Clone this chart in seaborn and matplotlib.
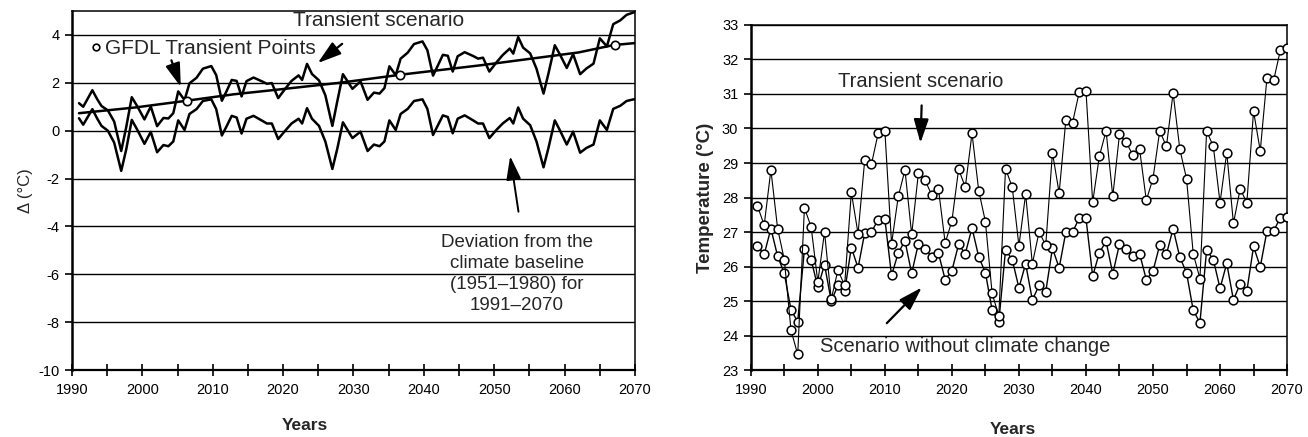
import matplotlib
matplotlib.use("Agg")
import matplotlib.pyplot as plt
import pandas as pd
import seaborn as sns

# ---------------- Left panel data (Delta, deg C) ----------------
left_years = [1991.0, 1991.6, 1992.3, 1992.9, 1993.6, 1994.2, 1995.1, 1996.0, 1997.0, 1997.7,
              1998.5, 1999.3, 2000.3, 2001.2, 2002.1, 2003.0, 2003.7, 2004.4, 2005.1, 2006.0,
              2006.7, 2007.7, 2008.6, 2009.8, 2010.5, 2011.3, 2012.0, 2012.7, 2013.4, 2014.1,
              2014.8, 2015.8, 2017.0, 2017.7, 2018.4, 2019.3, 2020.3, 2021.2, 2022.2, 2022.7,
              2023.4, 2024.1, 2025.1, 2026.0, 2027.0, 2027.7, 2028.5, 2029.85, 2031.0, 2032.0,
              2032.9, 2033.7, 2034.4, 2035.1, 2036.0, 2036.7, 2037.7, 2038.6, 2039.8, 2040.5,
              2041.3, 2042.0, 2042.7, 2043.4, 2044.1, 2044.8, 2045.8, 2047.0, 2047.7, 2048.4,
              2049.3, 2050.3, 2051.2, 2052.2, 2052.7, 2053.4, 2054.1, 2055.1, 2056.0, 2057.0,
              2057.7, 2058.6, 2059.3, 2060.3, 2061.2, 2062.2, 2063.1, 2064.1, 2065.0, 2066.0,
              2066.9, 2067.9, 2068.8, 2069.8, 2070.0]

deviation_vals = [0.52, 0.25, 0.60, 0.90, 0.50, 0.20, 0.00, -0.50, -1.68, -0.80,
                  0.45, 0.03, -0.55, -0.05, -0.90, -0.60, -0.65, -0.45, 0.43, 0.03,
                  0.70, 0.90, 1.24, 1.31, 0.90, -0.20, 0.20, 0.62, 0.55, -0.12,
                  0.50, 0.62, 0.42, 0.30, 0.30, -0.35, 0.00, 0.30, 0.50, 0.30,
                  0.94, 0.50, 0.20, -0.45, -1.60, -0.75, 0.35, -0.31, -0.04, -0.85,
                  -0.58, -0.65, -0.45, 0.43, 0.03, 0.70, 0.91, 1.24, 1.31, 0.91,
                  -0.18, 0.23, 0.64, 0.57, -0.11, 0.50, 0.64, 0.43, 0.30, 0.30,
                  -0.31, 0.03, 0.30, 0.53, 0.30, 0.97, 0.50, 0.23, -0.45, -1.53,
                  -0.72, 0.43, 0.03, -0.58, -0.04, -0.92, -0.72, -0.58, 0.43, 0.03,
                  0.91, 1.04, 1.24, 1.31, 1.30]

transient_delta_vals = [1.15, 1.00, 1.37, 1.69, 1.31, 1.03, 0.85, 0.38, -0.85, 0.13,
                        1.40, 1.01, 0.47, 1.01, 0.19, 0.53, 0.51, 0.73, 1.64, 1.28,
                        1.98, 2.21, 2.59, 2.70, 2.32, 1.25, 1.67, 2.12, 2.08, 1.43,
                        2.07, 2.22, 2.06, 1.96, 1.99, 1.36, 1.75, 2.08, 2.31, 2.12,
                        2.79, 2.37, 2.10, 1.48, 0.20, 1.23, 2.36, 1.75, 2.06, 1.29,
                        1.59, 1.55, 1.78, 2.69, 2.32, 3.01, 3.26, 3.62, 3.73, 3.36,
                        2.30, 2.73, 3.17, 3.13, 2.47, 3.11, 3.28, 3.12, 3.01, 3.05,
                        2.47, 2.85, 3.16, 3.43, 3.22, 3.91, 3.47, 3.23, 2.59, 1.55,
                        2.39, 3.57, 3.20, 2.62, 3.20, 2.36, 2.60, 2.80, 3.86, 3.52,
                        4.45, 4.61, 4.84, 4.94, 4.95]

trend_years = [1991, 1999, 2006, 2013, 2020, 2028, 2037, 2048, 2055, 2062, 2067, 2070]
trend_vals = [0.73, 0.97, 1.24, 1.52, 1.74, 2.00, 2.35, 2.73, 3.00, 3.27, 3.58, 3.66]

gfdl_years = [2006.3, 2036.6, 2067.1]
gfdl_vals = [1.23, 2.34, 3.60]

# ---------------- Right panel data (Temperature, deg C) ----------------
years = list(range(1991, 2071))
transient_temp = [27.75, 27.20, 28.80, 27.10, 26.20, 24.15, 23.45, 27.70, 27.15, 25.55,
                  27.00, 25.05, 25.90, 25.45, 28.15, 26.95, 29.10, 28.97, 29.86, 29.94,
                  26.66, 28.03, 28.80, 26.93, 28.70, 28.50, 28.07, 28.24, 26.68, 27.32,
                  28.82, 28.30, 29.86, 28.20, 27.30, 25.22, 24.57, 28.84, 28.30, 26.60,
                  28.10, 26.08, 27.00, 26.62, 29.30, 28.13, 30.25, 30.17, 31.06, 31.10,
                  27.86, 29.20, 29.93, 28.03, 29.83, 29.60, 29.23, 29.40, 27.92, 28.55,
                  29.93, 29.48, 31.03, 29.40, 28.55, 26.37, 25.65, 29.93, 29.48, 27.85,
                  29.30, 27.25, 28.25, 27.85, 30.50, 29.35, 31.47, 31.40, 32.27, 32.32]
no_change_temp = [26.60, 26.35, 27.10, 26.30, 25.80, 24.74, 24.40, 26.50, 26.20, 25.40,
                  26.05, 25.00, 25.45, 25.28, 26.55, 25.96, 26.98, 27.00, 27.36, 27.37,
                  25.74, 26.40, 26.74, 25.80, 26.66, 26.52, 26.28, 26.38, 25.62, 25.88,
                  26.64, 26.37, 27.12, 26.28, 25.82, 24.74, 24.40, 26.48, 26.20, 25.38,
                  26.08, 25.03, 25.45, 25.27, 26.53, 25.96, 27.00, 27.00, 27.40, 27.40,
                  25.72, 26.40, 26.73, 25.79, 26.65, 26.50, 26.30, 26.37, 25.62, 25.87,
                  26.62, 26.35, 27.10, 26.27, 25.82, 24.73, 24.37, 26.48, 26.20, 25.37,
                  26.09, 25.03, 25.50, 25.29, 26.58, 25.99, 27.03, 27.03, 27.42, 27.43]

x_major = [1990, 2000, 2010, 2020, 2030, 2040, 2050, 2060, 2070]
x_minor = [1995, 2005, 2015, 2025, 2035, 2045, 2055, 2065]
left_yticks = [-10, -8, -6, -4, -2, 0, 2, 4]
right_yticks = [23, 24, 25, 26, 27, 28, 29, 30, 31, 32, 33]

# ---------------- Styling ----------------
sns.set_theme(style="white")
FONT = ["Liberation Sans", "DejaVu Sans"]
plt.rcParams["font.family"] = FONT
plt.rcParams["axes.unicode_minus"] = False
plt.rcParams["axes.edgecolor"] = "black"
plt.rcParams["xtick.color"] = "black"
plt.rcParams["ytick.color"] = "black"

fig = plt.figure(figsize=(13.08, 4.37), dpi=100)
ax1 = fig.add_axes([0.055, 0.1533, 0.4305, 0.8215])
ax2 = fig.add_axes([0.574, 0.1533, 0.410, 0.7895])

left_df = pd.DataFrame({"year": left_years, "dev": deviation_vals, "trans": transient_delta_vals})
trend_df = pd.DataFrame({"year": trend_years, "trend": trend_vals})
gfdl_df = pd.DataFrame({"year": gfdl_years, "val": gfdl_vals})
right_df = pd.DataFrame({"year": years, "trans": transient_temp, "none": no_change_temp})

ARROW = dict(arrowstyle="-|>,head_length=0.8,head_width=0.25", color="black",
             lw=1.6, mutation_scale=18)


def style_axes(ax, ylim, yticks):
    ax.set_xlim(1990, 2070)
    ax.set_ylim(*ylim)
    ax.set_xticks(x_major)
    ax.set_xticks(x_minor, minor=True)
    ax.set_yticks(yticks)
    ax.yaxis.grid(True, color="black", linewidth=1.0, zorder=0)
    ax.xaxis.grid(False)
    ax.set_axisbelow(True)
    ax.tick_params(axis="x", which="both", direction="inout", length=8, width=1.2,
                   labelsize=10.5, pad=5, bottom=True)
    ax.tick_params(axis="y", which="major", direction="out", length=5, width=1.2,
                   labelsize=10.5, pad=4, left=True)
    for s in ax.spines.values():
        s.set_visible(True)
        s.set_color("black")
        s.set_linewidth(1.1)
    ax.spines["left"].set_linewidth(1.8)
    ax.spines["bottom"].set_linewidth(1.6)
    ax.set_xlabel("Years", fontsize=12.5, fontweight="bold")


# ---- Left panel ----
sns.lineplot(data=left_df, x="year", y="trans", ax=ax1, color="black", lw=1.8,
             estimator=None, sort=False, zorder=3)
sns.lineplot(data=left_df, x="year", y="dev", ax=ax1, color="black", lw=1.8,
             estimator=None, sort=False, zorder=3)
sns.lineplot(data=trend_df, x="year", y="trend", ax=ax1, color="black", lw=1.8,
             estimator=None, sort=False, zorder=3)
ax1.plot(gfdl_df["year"], gfdl_df["val"], linestyle="none", marker="o", markersize=6,
         markerfacecolor="white", markeredgecolor="black", markeredgewidth=1.2,
         zorder=4, label="GFDL Transient Points")
style_axes(ax1, (-10, 5), left_yticks)
ax1.set_ylabel("\u0394 (\u00b0C)", fontsize=12, labelpad=4)
ax1.xaxis.set_label_coords(0.414, -0.135)

ax1.legend(loc="center left", bbox_to_anchor=(0.036, 0.896), frameon=False,
           handlelength=0.4, handletextpad=0.2, borderpad=0, borderaxespad=0,
           markerscale=0.8, fontsize=15)

ax1.text(2033.6, 4.62, "Transient scenario", ha="center", va="center", fontsize=15)
ax1.annotate("", xy=(2005.6, 1.72), xytext=(2004.0, 3.05), arrowprops=ARROW)
ax1.annotate("", xy=(2024.6, 2.75), xytext=(2028.7, 3.7), arrowprops=ARROW)
ax1.annotate("", xy=(2052.2, -0.95), xytext=(2053.5, -3.5),
             arrowprops=dict(ARROW, lw=1.4))
ax1.text(2053.2, -6.0, "Deviation from the\nclimate baseline\n(1951\u20131980) for\n1991\u20132070",
         ha="center", va="center", fontsize=13.5, linespacing=1.3)

# ---- Right panel ----
mk = dict(marker="o", markersize=6.3, markerfacecolor="white", markeredgecolor="black",
          markeredgewidth=1.1)
sns.lineplot(data=right_df, x="year", y="none", ax=ax2, color="black", lw=1.0,
             estimator=None, sort=False, zorder=3, **mk)
sns.lineplot(data=right_df, x="year", y="trans", ax=ax2, color="black", lw=0.8,
             estimator=None, sort=False, zorder=3, **mk)
style_axes(ax2, (23, 33), right_yticks)
ax2.set_ylabel("Temperature (\u00b0C)", fontsize=13.5, fontweight="bold", labelpad=6)
ax2.xaxis.set_label_coords(0.488, -0.15)

ax2.text(2015.4, 31.36, "Transient scenario", ha="center", va="center", fontsize=14.5)
ax2.annotate("", xy=(2015.3, 29.5), xytext=(2015.5, 30.75), arrowprops=ARROW)
ax2.text(2022.0, 23.68, "Scenario without climate change", ha="center", va="center",
         fontsize=14.5)
ax2.annotate("", xy=(2015.8, 25.45), xytext=(2010.0, 24.3), arrowprops=ARROW)

fig.savefig("out.png", dpi=100)
